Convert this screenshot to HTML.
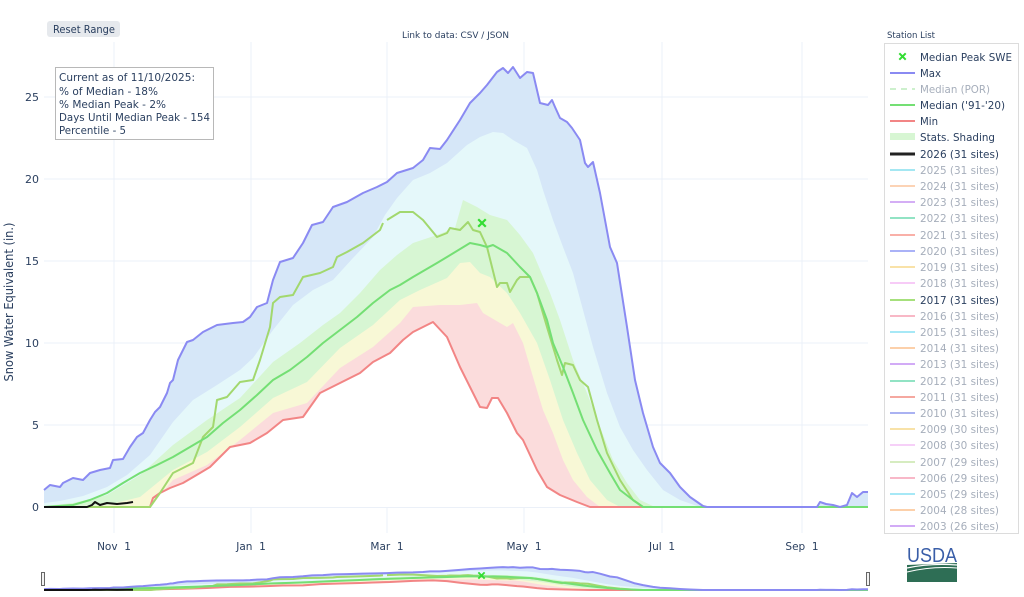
<!DOCTYPE html>
<html>
<head>
<meta charset="utf-8">
<style>
html,body{margin:0;padding:0;background:#fff;}
svg{display:block;font-family:"DejaVu Sans","Liberation Sans",sans-serif;}
</style>
</head>
<body>
<svg width="1024" height="597" viewBox="0 0 1024 597" xmlns="http://www.w3.org/2000/svg">
<defs>
<g id="series">
  <!-- bands -->
  <path fill="#d6e7f8" d="M44,507 L44,490 50,485 60,487 63,483 73,478 83,480 90,473 100,470 110,468 113,460 123,459 130,447 137,437 143,433 150,420 155,412 160,407 167,393 170,383 173,380 178,360 187,342 193,340 203,332 217,325 233,323 243,322 250,317 257,307 267,303 273,280 280,262 293,258 303,243 312,225 323,222 333,207 347,202 363,193 377,187 387,182 397,173 413,168 423,160 430,148 440,149 447,140 460,120 470,103 480,93 487,85 497,72 503,68 508,73 513,67 520,78 527,72 533,73 540,103 548,105 552,100 555,107 560,118 567,122 572,128 580,140 585,163 588,167 593,162 600,193 610,247 617,263 627,327 635,380 643,413 653,447 660,463 670,473 680,487 690,497 703,506 707,507 817,507 820,502 826,504 833,505 840,507 847,505 852,493 857,497 863,492 868,492 L868,507 Z"/>
  <path fill="#e5f8fa" d="M44,507 L44,503 60,501 83,496 107,487 127,475 150,455 173,422 193,400 217,385 240,370 253,358 273,330 293,305 313,290 333,280 353,258 373,237 385,215 397,198 413,180 430,173 447,163 467,145 480,137 493,132 503,133 513,140 527,148 537,170 543,190 553,220 563,247 573,273 583,310 593,347 607,393 620,427 633,450 647,470 663,490 680,500 700,507 L868,507 Z"/>
  <path fill="#d7f6d3" d="M44,507 L44,506 73,503 107,495 140,475 173,445 207,420 240,398 273,362 300,343 323,325 340,313 360,293 380,270 397,255 413,243 437,235 455,228 463,200 477,207 490,215 507,220 520,235 533,253 550,293 560,320 573,360 587,393 600,427 613,460 627,483 640,500 655,507 L868,507 Z"/>
  <path fill="#f8f8d6" d="M44,507 L107,505 140,497 173,470 207,452 240,427 273,398 307,382 340,348 373,325 400,300 420,290 447,278 460,263 470,262 480,273 490,277 507,293 520,313 537,343 550,380 563,420 577,453 590,480 607,500 620,507 L868,507 Z"/>
  <path fill="#fbdcdc" d="M44,507 L150,507 173,480 207,465 240,440 273,413 307,403 340,368 373,347 400,323 413,307 440,305 460,305 477,303 483,313 500,323 507,327 513,323 523,343 533,377 543,410 553,433 563,460 573,480 587,497 600,507 L868,507 Z"/>
  <path fill="#ffffff" d="M44,507 L150,507 153,498 160,493 170,488 183,483 200,473 210,467 220,457 230,447 250,443 267,433 283,420 303,417 320,393 340,383 360,373 373,362 390,353 403,340 413,332 423,327 433,322 447,337 460,367 480,407 487,408 492,398 498,398 507,413 517,433 523,440 537,470 547,487 560,495 577,502 590,507 L868,507 Z"/>
</g>
<g id="lines" fill="none" stroke-linejoin="round">
  <!-- min -->
  <polyline stroke="#f28585" stroke-width="2" vector-effect="non-scaling-stroke" points="44,507 150,507 153,498 160,493 170,488 183,483 200,473 210,467 220,457 230,447 250,443 267,433 283,420 303,417 320,393 340,383 360,373 373,362 390,353 403,340 413,332 423,327 433,322 447,337 460,367 480,407 487,408 492,398 498,398 507,413 517,433 523,440 537,470 547,487 560,495 577,502 590,507 868,507"/>
  <!-- 2017 -->
  <polyline stroke="#a2d86e" stroke-width="2" vector-effect="non-scaling-stroke" points="44,507 150,507 160,493 173,473 193,463 203,437 213,427 217,400 227,397 240,382 253,380 260,360 270,327 273,303 280,297 293,295 303,277 320,273 333,267 337,257 347,252 363,243 380,230 383,223"/>
  <polyline stroke="#a2d86e" stroke-width="2" vector-effect="non-scaling-stroke" points="387,220 400,212 413,212 423,220 437,237 447,233 450,228 460,230 468,222 473,230 480,232 487,247 497,287 500,283 507,283 510,292 517,280 520,277 530,277 537,293 547,327 557,360 562,375 565,363 573,365 580,380 588,387 597,420 607,453 620,480 633,500 643,507 868,507"/>
  <!-- median -->
  <polyline stroke="#74df74" stroke-width="2" vector-effect="non-scaling-stroke" points="44,507 73,505 90,500 107,493 123,483 140,473 157,465 173,457 190,447 207,437 223,423 240,410 257,395 273,380 290,370 307,357 323,343 340,330 357,317 373,303 390,290 400,285 413,277 437,263 447,257 470,243 480,245 487,247 493,245 507,253 520,267 530,277 537,293 547,320 553,343 563,367 573,393 583,420 597,450 610,473 620,490 633,500 643,507 868,507"/>
  <!-- max -->
  <polyline stroke="#8a8af2" stroke-width="2" vector-effect="non-scaling-stroke" points="44,490 50,485 60,487 63,483 73,478 83,480 90,473 100,470 110,468 113,460 123,459 130,447 137,437 143,433 150,420 155,412 160,407 167,393 170,383 173,380 178,360 187,342 193,340 203,332 217,325 233,323 243,322 250,317 257,307 267,303 273,280 280,262 293,258 303,243 312,225 323,222 333,207 347,202 363,193 377,187 387,182 397,173 413,168 423,160 430,148 440,149 447,140 460,120 470,103 480,93 487,85 497,72 503,68 508,73 513,67 520,78 527,72 533,73 540,103 548,105 552,100 555,107 560,118 567,122 572,128 580,140 585,163 588,167 593,162 600,193 610,247 617,263 627,327 635,380 643,413 653,447 660,463 670,473 680,487 690,497 703,506 707,507 817,507 820,502 826,504 833,505 840,507 847,505 852,493 857,497 863,492 868,492"/>
  <!-- 2026 -->
  <polyline stroke="#111" stroke-width="2" vector-effect="non-scaling-stroke" points="44,507 87,507 92,505 95,502 100,505 107,503 117,504 127,503 133,502"/>
</g>
</defs>

<!-- gridlines -->
<g stroke="#ebf0f8" stroke-width="1">
  <line x1="114" y1="42" x2="114" y2="533"/>
  <line x1="251" y1="42" x2="251" y2="533"/>
  <line x1="387" y1="42" x2="387" y2="533"/>
  <line x1="524" y1="42" x2="524" y2="533"/>
  <line x1="662" y1="42" x2="662" y2="533"/>
  <line x1="802" y1="42" x2="802" y2="533"/>
  <line x1="44" y1="425" x2="868" y2="425"/>
  <line x1="44" y1="343" x2="868" y2="343"/>
  <line x1="44" y1="261" x2="868" y2="261"/>
  <line x1="44" y1="179" x2="868" y2="179"/>
  <line x1="44" y1="97" x2="868" y2="97"/>
</g>
<line x1="44" y1="507" x2="868" y2="507" stroke="#ebf0f8" stroke-width="2"/>

<!-- main chart -->
<use href="#series"/>
<use href="#lines"/>
<!-- median peak marker -->
<g stroke="#33dd33" stroke-width="2.2" stroke-linecap="square">
  <line x1="479" y1="220" x2="485" y2="226"/>
  <line x1="485" y1="220" x2="479" y2="226"/>
</g>

<!-- y ticks -->
<g font-size="11" fill="#2a3f5f" text-anchor="end">
  <text x="39" y="511">0</text>
  <text x="39" y="429">5</text>
  <text x="39" y="347">10</text>
  <text x="39" y="265">15</text>
  <text x="39" y="183">20</text>
  <text x="39" y="101">25</text>
</g>
<text transform="translate(13,302) rotate(-90)" font-size="12" fill="#2a3f5f" text-anchor="middle" textLength="159" lengthAdjust="spacingAndGlyphs">Snow Water Equivalent (in.)</text>

<!-- x ticks -->
<g font-size="10.5" fill="#2a3f5f" text-anchor="middle">
  <text x="114" y="550">Nov&#160;&#160;1</text>
  <text x="251" y="550">Jan&#160;&#160;1</text>
  <text x="387" y="550">Mar&#160;&#160;1</text>
  <text x="524" y="550">May&#160;&#160;1</text>
  <text x="662" y="550">Jul&#160;&#160;1</text>
  <text x="802" y="550">Sep&#160;&#160;1</text>
</g>

<!-- reset button -->
<rect x="47" y="21" width="73" height="16" rx="3" fill="#e6e9ed"/>
<text x="53" y="33" font-size="10.5" fill="#2a3f5f" textLength="62" lengthAdjust="spacingAndGlyphs">Reset Range</text>

<!-- link -->
<text x="402" y="38" font-size="8.5" fill="#2a3f5f" textLength="107" lengthAdjust="spacingAndGlyphs">Link to data: CSV / JSON</text>

<!-- annotation box -->
<rect x="55.5" y="67.5" width="158" height="72" fill="#fff" stroke="#b8b8b8" stroke-width="1"/>
<g font-size="10.5" fill="#2a3f5f">
  <text x="59" y="81" textLength="136" lengthAdjust="spacingAndGlyphs">Current as of 11/10/2025:</text>
  <text x="59" y="95" textLength="99" lengthAdjust="spacingAndGlyphs">% of Median - 18%</text>
  <text x="59" y="108" textLength="107" lengthAdjust="spacingAndGlyphs">% Median Peak - 2%</text>
  <text x="59" y="121" textLength="151" lengthAdjust="spacingAndGlyphs">Days Until Median Peak - 154</text>
  <text x="59" y="134" textLength="67" lengthAdjust="spacingAndGlyphs">Percentile - 5</text>
</g>

<!-- legend -->
<text x="887" y="38" font-size="8.5" fill="#2a3f5f" textLength="48" lengthAdjust="spacingAndGlyphs">Station List</text>
<rect x="884.5" y="43.5" width="134" height="490" fill="#fff" stroke="#dcdcdc" stroke-width="1"/>
<g font-size="10.5">
  <g stroke="#33dd33" stroke-width="2" stroke-linecap="square">
    <line x1="900" y1="54" x2="905" y2="59"/><line x1="905" y1="54" x2="900" y2="59"/>
  </g>
  <text x="920" y="61" fill="#2a3f5f" textLength="92" lengthAdjust="spacingAndGlyphs">Median Peak SWE</text>

  <line x1="890" y1="73" x2="915" y2="73" stroke="#8a8af2" stroke-width="2"/>
  <text x="920" y="77" fill="#2a3f5f" textLength="21" lengthAdjust="spacingAndGlyphs">Max</text>

  <line x1="890" y1="89" x2="915" y2="89" stroke="#cdf0cd" stroke-width="2" stroke-dasharray="6,5"/>
  <text x="920" y="93" fill="#a6aebb" textLength="70" lengthAdjust="spacingAndGlyphs">Median (POR)</text>

  <line x1="890" y1="105" x2="915" y2="105" stroke="#74df74" stroke-width="2"/>
  <text x="920" y="109" fill="#2a3f5f" textLength="85" lengthAdjust="spacingAndGlyphs">Median ('91-'20)</text>

  <line x1="890" y1="121" x2="915" y2="121" stroke="#f28585" stroke-width="2"/>
  <text x="920" y="125" fill="#2a3f5f" textLength="18" lengthAdjust="spacingAndGlyphs">Min</text>

  <rect x="890" y="133" width="25" height="7" fill="#d7f6d3"/>
  <text x="920" y="141" fill="#2a3f5f" textLength="75" lengthAdjust="spacingAndGlyphs">Stats. Shading</text>

  <line x1="890" y1="154" x2="915" y2="154" stroke="#222" stroke-width="3"/>
  <text x="920" y="158" fill="#2a3f5f" textLength="79" lengthAdjust="spacingAndGlyphs">2026 (31 sites)</text>

  <g stroke-width="2">
    <line x1="890" y1="170" x2="915" y2="170" stroke="#a4e7f2"/>
    <line x1="890" y1="186" x2="915" y2="186" stroke="#fcd3b5"/>
    <line x1="890" y1="202" x2="915" y2="202" stroke="#d4aef5"/>
    <line x1="890" y1="218" x2="915" y2="218" stroke="#92e3c4"/>
    <line x1="890" y1="235" x2="915" y2="235" stroke="#f9b0a8"/>
    <line x1="890" y1="251" x2="915" y2="251" stroke="#aab2f7"/>
    <line x1="890" y1="267" x2="915" y2="267" stroke="#f9e2a8"/>
    <line x1="890" y1="283" x2="915" y2="283" stroke="#f7cbf7"/>
    <line x1="890" y1="300" x2="915" y2="300" stroke="#a6e07c"/>
    <line x1="890" y1="316" x2="915" y2="316" stroke="#f8b8c6"/>
    <line x1="890" y1="332" x2="915" y2="332" stroke="#a6e8f6"/>
    <line x1="890" y1="348" x2="915" y2="348" stroke="#fcd0aa"/>
    <line x1="890" y1="364" x2="915" y2="364" stroke="#d2abf6"/>
    <line x1="890" y1="381" x2="915" y2="381" stroke="#92e3c4"/>
    <line x1="890" y1="397" x2="915" y2="397" stroke="#f5a8a0"/>
    <line x1="890" y1="413" x2="915" y2="413" stroke="#aab2f2"/>
    <line x1="890" y1="429" x2="915" y2="429" stroke="#f8e2a8"/>
    <line x1="890" y1="445" x2="915" y2="445" stroke="#f6d0f8"/>
    <line x1="890" y1="462" x2="915" y2="462" stroke="#d6ecc0"/>
    <line x1="890" y1="478" x2="915" y2="478" stroke="#f8b8c8"/>
    <line x1="890" y1="494" x2="915" y2="494" stroke="#a6e8f6"/>
    <line x1="890" y1="510" x2="915" y2="510" stroke="#fcd0aa"/>
    <line x1="890" y1="526" x2="915" y2="526" stroke="#d2abf6"/>
  </g>
  <g fill="#a6aebb">
    <text x="920" y="174" textLength="79" lengthAdjust="spacingAndGlyphs">2025 (31 sites)</text>
    <text x="920" y="190" textLength="79" lengthAdjust="spacingAndGlyphs">2024 (31 sites)</text>
    <text x="920" y="206" textLength="79" lengthAdjust="spacingAndGlyphs">2023 (31 sites)</text>
    <text x="920" y="222" textLength="79" lengthAdjust="spacingAndGlyphs">2022 (31 sites)</text>
    <text x="920" y="239" textLength="79" lengthAdjust="spacingAndGlyphs">2021 (31 sites)</text>
    <text x="920" y="255" textLength="79" lengthAdjust="spacingAndGlyphs">2020 (31 sites)</text>
    <text x="920" y="271" textLength="79" lengthAdjust="spacingAndGlyphs">2019 (31 sites)</text>
    <text x="920" y="287" textLength="79" lengthAdjust="spacingAndGlyphs">2018 (31 sites)</text>
    <text x="920" y="304" fill="#2a3f5f" textLength="79" lengthAdjust="spacingAndGlyphs">2017 (31 sites)</text>
    <text x="920" y="320" textLength="79" lengthAdjust="spacingAndGlyphs">2016 (31 sites)</text>
    <text x="920" y="336" textLength="79" lengthAdjust="spacingAndGlyphs">2015 (31 sites)</text>
    <text x="920" y="352" textLength="79" lengthAdjust="spacingAndGlyphs">2014 (31 sites)</text>
    <text x="920" y="368" textLength="79" lengthAdjust="spacingAndGlyphs">2013 (31 sites)</text>
    <text x="920" y="385" textLength="79" lengthAdjust="spacingAndGlyphs">2012 (31 sites)</text>
    <text x="920" y="401" textLength="79" lengthAdjust="spacingAndGlyphs">2011 (31 sites)</text>
    <text x="920" y="417" textLength="79" lengthAdjust="spacingAndGlyphs">2010 (31 sites)</text>
    <text x="920" y="433" textLength="79" lengthAdjust="spacingAndGlyphs">2009 (30 sites)</text>
    <text x="920" y="449" textLength="79" lengthAdjust="spacingAndGlyphs">2008 (30 sites)</text>
    <text x="920" y="466" textLength="79" lengthAdjust="spacingAndGlyphs">2007 (29 sites)</text>
    <text x="920" y="482" textLength="79" lengthAdjust="spacingAndGlyphs">2006 (29 sites)</text>
    <text x="920" y="498" textLength="79" lengthAdjust="spacingAndGlyphs">2005 (29 sites)</text>
    <text x="920" y="514" textLength="79" lengthAdjust="spacingAndGlyphs">2004 (28 sites)</text>
    <text x="920" y="530" textLength="79" lengthAdjust="spacingAndGlyphs">2003 (26 sites)</text>
  </g>
</g>

<!-- range slider -->
<g transform="translate(0,590) scale(1,0.052) translate(0,-507)">
  <use href="#series"/>
  <use href="#lines"/>
</g>
<g stroke="#33dd33" stroke-width="1.8" stroke-linecap="square">
  <line x1="479" y1="573" x2="484" y2="578"/><line x1="484" y1="573" x2="479" y2="578"/>
</g>
<rect x="41.5" y="572.5" width="3" height="13" fill="#f2f2f2" stroke="#666" stroke-width="1"/>
<rect x="866.5" y="572.5" width="3" height="13" fill="#f2f2f2" stroke="#666" stroke-width="1"/>

<!-- USDA logo -->
<text x="907" y="562" font-family="Liberation Sans, sans-serif" font-size="20" fill="#3a5ea8" textLength="50" lengthAdjust="spacingAndGlyphs">USDA</text>
<path d="M907,565 L957,563 L957,582 L907,582 Z" fill="#2e6e55"/>
<path d="M907,568 Q930,563 957,565" stroke="#fff" stroke-width="1.2" fill="none"/>
<path d="M907,572 Q932,566 957,568" stroke="#fff" stroke-width="1" fill="none"/>
</svg>
</body>
</html>
